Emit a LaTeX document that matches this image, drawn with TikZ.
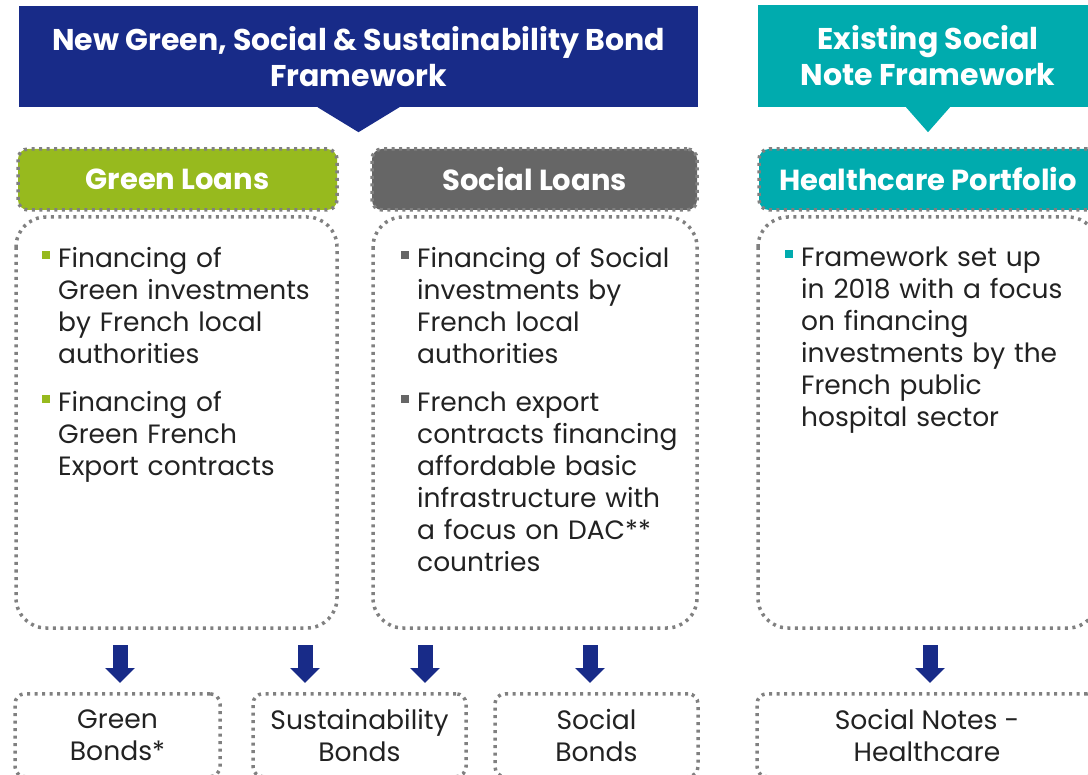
\documentclass[tikz,border=0pt]{standalone}
\usepackage{fontspec}
\setmainfont{Poppins}
\usetikzlibrary{arrows.meta,positioning}

\definecolor{fwnavy}{RGB}{24,43,136}
\definecolor{fwteal}{RGB}{0,171,174}
\definecolor{loangreen}{RGB}{151,186,30}
\definecolor{loangray}{RGB}{102,102,102}
\definecolor{dotgray}{RGB}{128,128,128}
\definecolor{inkgray}{RGB}{34,34,34}

\tikzset{
  dotline/.style={draw=dotgray, line width=3.5pt, dash pattern=on 3pt off 4.5pt},
  banner/.style={inner sep=0pt, text=white, align=center, font=\bfseries\fontsize{30}{36}\selectfont},
  headbox/.style={dotline, rounded corners=10pt, minimum height=61pt, inner sep=0pt, text=white, font=\bfseries\fontsize{29}{34}\selectfont},
  bodybox/.style={dotline, rounded corners=30pt},
  bondbox/.style={dotline, rounded corners=10pt, minimum height=83pt, inner sep=0pt, align=center, text=inkgray, font=\fontsize{26.6}{32}\selectfont},
  bodytext/.style={anchor=base west, inner sep=0pt, text width=290pt, align=left, text=inkgray, font=\fontsize{26.5}{32}\selectfont},
  bullet/.style={minimum size=8.5pt, inner sep=0pt},
  downarrow/.style={fwnavy, line width=15pt, -{Triangle[length=15pt,width=29pt]}}
}

\begin{document}
\begin{tikzpicture}[x=1pt,y=-1pt]
  \useasboundingbox (0,0) rectangle (1088,775);
  \clip (0,0) rectangle (1088,775);

  % frameworks
  \node[banner, fill=fwnavy, minimum width=679pt, minimum height=101pt] (newfw) at (358.5,56.5)
    {New Green, Social \& Sustainability Bond\\Framework};
  \fill[fwnavy] ([xshift=-41pt]newfw.south) -- ++(41,25) -- ++(41,-25) -- cycle;
  \node[banner, fill=fwteal, minimum width=340pt, minimum height=102pt] (oldfw) at (928,56)
    {Existing Social\\Note Framework};
  \fill[fwteal] ([xshift=-22pt]oldfw.south) -- ++(22,25) -- ++(22,-25) -- cycle;

  % loan headers
  \node[headbox, fill=loangreen, minimum width=319pt] (green) at (177.5,179.5) {Green Loans};
  \node[headbox, fill=loangray, minimum width=325pt] (social) at (534.5,179.5) {Social Loans};
  \node[headbox, fill=fwteal, minimum width=338pt] (health) at (928,179.5) {Healthcare Portfolio};

  % loan bodies
  \draw[bodybox] (16,217) rectangle (337,628);
  \draw[bodybox] (373,217) rectangle (697,628);
  \draw[bodybox] (758,217) rectangle (1098,628);

  \node[bodytext] (g1) at (58,268) {Financing of\\Green investments\\by French local\\authorities};
  \node[bodytext] (g2) at (58,412) {Financing of\\Green French\\Export contracts};
  \node[bodytext] (s1) at (417,268) {Financing of Social\\investments by\\French local\\authorities};
  \node[bodytext] (s2) at (417,412) {French export\\contracts financing\\affordable basic\\infrastructure with\\a focus on DAC**\\countries};
  \node[bodytext] (h1) at (801,267) {Framework set up\\in 2018 with a focus\\on financing\\investments by the\\French public\\hospital sector};

  \node[bullet, fill=loangreen] (gb1) at ([xshift=-12pt,yshift=13pt]g1.base west) {};
  \node[bullet, fill=loangreen] (gb2) at ([xshift=-12pt,yshift=13pt]g2.base west) {};
  \node[bullet, fill=loangray] (sb1) at ([xshift=-12pt,yshift=13pt]s1.base west) {};
  \node[bullet, fill=loangray] (sb2) at ([xshift=-12pt,yshift=13pt]s2.base west) {};
  \node[bullet, fill=fwteal] (hb1) at ([xshift=-12pt,yshift=13pt]h1.base west) {};

  % bonds
  \node[bondbox, minimum width=205pt, anchor=north] (gbonds) at (117.5,692) {Green\\Bonds*};
  \node[bondbox, minimum width=213pt, anchor=north] (sbonds) at (359.5,692) {Sustainability\\Bonds};
  \node[bondbox, minimum width=203pt, anchor=north] (socbonds) at (596.5,692) {Social\\Bonds};
  \node[bondbox, minimum width=340pt, anchor=north] (notes) at (927,692) {Social Notes -\\Healthcare};

  \foreach \b/\dx in {gbonds/2.5, sbonds/-54.5, sbonds/65.5, socbonds/-6.5, notes/3}
    \draw[downarrow] ([xshift=\dx pt,yshift=47pt]\b.north) -- ([xshift=\dx pt,yshift=9pt]\b.north);
\end{tikzpicture}
\end{document}
